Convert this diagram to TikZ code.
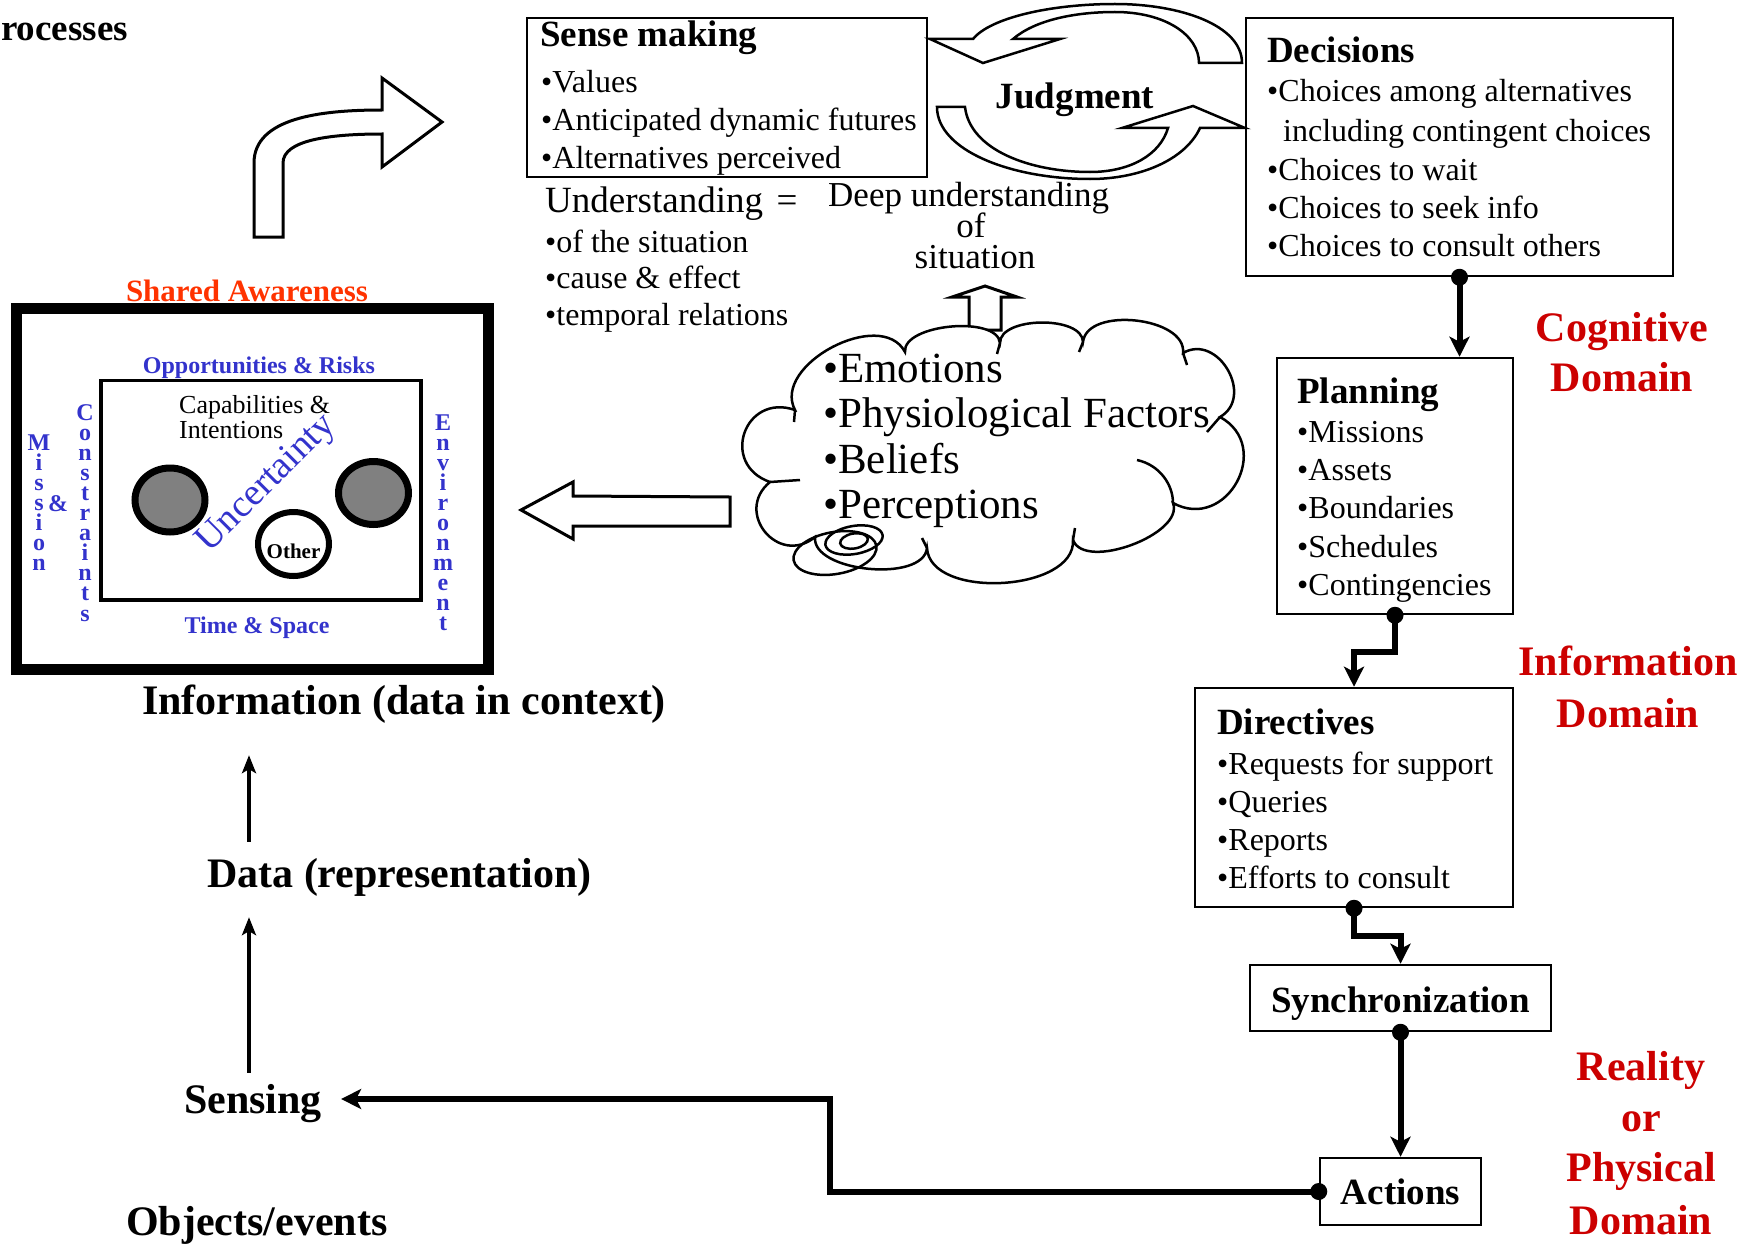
\documentclass[tikz,border=0pt]{standalone}
\usepackage{fontspec}
\setmainfont{Liberation Serif}
\usetikzlibrary{arrows.meta,shapes.geometric,calc}
\definecolor{domred}{RGB}{204,0,0}
\definecolor{sared}{RGB}{255,51,0}
\definecolor{sablue}{RGB}{51,51,204}
\begin{document}
\begin{tikzpicture}[x=1pt,y=-1pt,
  every node/.style={inner sep=0pt},
  reg/.style={font=\fontsize{#1pt}{#1pt}\selectfont},
  bld/.style={font=\fontsize{#1pt}{#1pt}\selectfont\bfseries},
  bul/.style={reg=32, anchor=base west},
  hdr/.style={bld=37, anchor=base west},
  lab/.style={bld=42, anchor=base west},
  dom/.style={bld=42, anchor=base, text=domred},
  vlet/.style={bld=24, anchor=base, text=sablue, text height=13pt, text depth=0pt},
  rbox/.style={draw, line width=2.5pt, rectangle},
  conn/.style={line width=6pt, -{Stealth[length=20pt,width=20pt,inset=5pt]}},
  thinarr/.style={line width=4pt, -{Stealth[length=18pt,width=14pt,inset=4pt]}},
  blockarr/.style={draw, line width=3pt, fill=white, line join=miter},
  cloudline/.style={line width=2.5pt}
]
\useasboundingbox (0,0) rectangle (1758,1244);

% ---------- top-left ----------
\node[bld=37, anchor=base west] (proc) at (1,41) {rocesses};
\draw[blockarr] (254,237) -- (254,163) .. controls (254,118) and (320,110) .. (382,110)
  -- (382,78) -- (442,122) -- (382,167) -- (382,134)
  .. controls (330,134) and (283,140) .. (283,163) -- (283,237) -- cycle;

% ---------- shared awareness ----------
\node[bld=31, anchor=base, text=sared] (salbl) at (247,301) {Shared Awareness};
\node[draw, line width=11pt, minimum width=472pt, minimum height=361pt] (sa) at (252.5,489) {};
\node[draw, line width=3.5pt, minimum width=320pt, minimum height=219.5pt] (ctx) at (261,490.25) {};
\node[bld=24, anchor=base, text=sablue] (opp) at (259,373) {Opportunities \& Risks};
\node[bld=24, anchor=base, text=sablue] (ts) at (257,633) {Time \& Space};
\node[reg=26, anchor=base west] (cap1) at (179,413) {Capabilities \&};
\node[reg=26, anchor=base west] (cap2) at (179,438) {Intentions};
\node[ellipse, draw, line width=7pt, fill=gray, minimum width=70pt, minimum height=64pt] (g1) at (170,500) {};
\node[ellipse, draw, line width=7pt, fill=gray, minimum width=70pt, minimum height=63pt] (g2) at (373.5,493) {};
\node[ellipse, draw, line width=6pt, fill=white, minimum width=71pt, minimum height=64pt] (oth) at (293.5,544) {};
\node[bld=21, anchor=base] (othtxt) at (293.5,558) {Other};
\node[reg=38, anchor=base, rotate=45, text=sablue] (unc) at (273,490) {Uncertainty};
\foreach \ch [count=\i from 0] in {M,i,s,s,i,o,n}
  \node[vlet] (mis\i) at (39,{450+20*\i}) {\ch};
\node[vlet] (amp) at (58,511) {\&};
\foreach \ch [count=\i from 0] in {C,o,n,s,t,r,a,i,n,t,s}
  \node[vlet] (con\i) at (85,{420+20.1*\i}) {\ch};
\foreach \ch [count=\i from 0] in {E,n,v,i,r,o,n,m,e,n,t}
  \node[vlet] (env\i) at (443,{430+20*\i}) {\ch};

% ---------- left column ----------
\node[lab] (info) at (142,714) {Information (data in context)};
\node[lab] (data) at (207,887) {Data (representation)};
\node[lab] (sensing) at (184,1113) {Sensing};
\node[lab] (objects) at (126,1235) {Objects/events};
\coordinate (colx) at (249,1000);
\draw[thinarr, shorten <=11pt, shorten >=21pt] (sensing.north -| colx) -- (data.south -| colx);
\draw[thinarr, shorten <=16pt, shorten >=32pt] (data.north -| colx) -- (info.south -| colx);

% ---------- sense making ----------
\node[rbox, minimum width=400pt, minimum height=159pt] (sense) at (727,97.5) {};
\node[hdr] (sm0) at (540,47) {Sense making};
\node[bul] (sm1) at (541,93) {\textbullet Values};
\node[bul] (sm2) at (541,131) {\textbullet Anticipated dynamic futures};
\node[bul] (sm3) at (541,168) {\textbullet Alternatives perceived};
\node[reg=37, anchor=base west] (und) at (545,212) {Understanding};
\node[reg=37, anchor=base] (eq) at (787,212) {=};
\node[reg=35, anchor=base west] (deep) at (828,206) {Deep understanding};
\node[reg=35, anchor=base] (of) at (971,237) {of};
\node[reg=35, anchor=base] (sit) at (975,268) {situation};
\node[bul] (u1) at (545,252) {\textbullet of the situation};
\node[bul] (u2) at (545,288) {\textbullet cause \& effect};
\node[bul] (u3) at (545,325) {\textbullet temporal relations};

% ---------- judgment ----------
\draw[blockarr, line width=2.5pt] (973,39) -- (930,39) -- (983,63) -- (1060,39) -- (1013,39)
  .. controls (1035,20) and (1075,12) .. (1115,12)
  .. controls (1165,12) and (1199,35) .. (1199,63) -- (1242,63)
  .. controls (1242,25) and (1180,4) .. (1115,4)
  .. controls (1050,4) and (990,18) .. (973,39) -- cycle;
\draw[blockarr, line width=2.5pt] (937,107) -- (965,107)
  .. controls (970,150) and (1030,172) .. (1090,172)
  .. controls (1130,172) and (1160,155) .. (1168,128)
  -- (1122,128) -- (1193,106) -- (1245,128) -- (1200,128)
  .. controls (1185,160) and (1140,179) .. (1090,179)
  .. controls (1010,179) and (937,150) .. (937,107) -- cycle;
\node[bld=37, anchor=base] (judg) at (1075,109) {Judgment};

% ---------- decisions ----------
\node[rbox, minimum width=427pt, minimum height=258pt] (dec) at (1459.5,147) {};
\node[hdr] (d0) at (1267,63) {Decisions};
\node[bul] (d1) at (1267,102) {\textbullet Choices among alternatives};
\node[bul] (d1b) at (1283,142) {including contingent choices};
\node[bul] (d2) at (1267,180) {\textbullet Choices to wait};
\node[bul] (d3) at (1267,218) {\textbullet Choices to seek info};
\node[bul] (d4) at (1267,256) {\textbullet Choices to consult others};

% ---------- planning ----------
\node[rbox, minimum width=236pt, minimum height=256pt] (plan) at (1395,486) {};
\node[hdr] (p0) at (1297,403) {Planning};
\node[bul] (p1) at (1297,442) {\textbullet Missions};
\node[bul] (p2) at (1297,480) {\textbullet Assets};
\node[bul] (p3) at (1297,518) {\textbullet Boundaries};
\node[bul] (p4) at (1297,557) {\textbullet Schedules};
\node[bul] (p5) at (1297,595) {\textbullet Contingencies};

% ---------- directives ----------
\node[rbox, minimum width=318pt, minimum height=219pt] (dir) at (1354,797.5) {};
\node[hdr] (r0) at (1217,734) {Directives};
\node[bul] (r1) at (1217,774) {\textbullet Requests for support};
\node[bul] (r2) at (1217,812) {\textbullet Queries};
\node[bul] (r3) at (1217,850) {\textbullet Reports};
\node[bul] (r4) at (1217,888) {\textbullet Efforts to consult};

% ---------- sync / actions ----------
\node[rbox, minimum width=301pt, minimum height=66pt] (sync) at (1400.5,998) {};
\node[bld=37, anchor=base] (synct) at (1400.5,1012) {Synchronization};
\node[rbox, minimum width=161pt, minimum height=67pt] (act) at (1400.5,1191.5) {};
\node[bld=37, anchor=base] (actt) at (1400.5,1204) {Actions};

% ---------- connectors ----------
\draw[conn] (dec.south) -- (dec.south |- plan.north);
\fill (dec.south) circle[radius=8.5];
\coordinate (pd) at (1375,652);
\draw[conn] (plan.south) |- (pd) -| (dir.north);
\fill (plan.south) circle[radius=8.5];
\coordinate (ds) at (1380,936);
\draw[conn] (dir.south) |- (ds) -| (sync.north);
\fill (dir.south) circle[radius=8.5];
\draw[conn] (sync.south) -- (act.north);
\fill (sync.south) circle[radius=8.5];
\coordinate (turn) at (830,1099);
\path (sensing.east) ++(19,0) coordinate (senstip);
\draw[conn] (act.west) -| (turn) -- (turn -| senstip);
\fill (act.west) circle[radius=8.5];

% ---------- domain labels ----------
\node[dom] (cg1) at (1622,341) {Cognitive};
\node[dom] (cg2) at (1622,391) {Domain};
\node[dom] (in1) at (1628,675) {Information};
\node[dom] (in2) at (1628,727) {Domain};
\node[dom] (re1) at (1641,1080) {Reality};
\node[dom] (re2) at (1641,1131) {or};
\node[dom] (re3) at (1641,1181) {Physical};
\node[dom] (re4) at (1641,1234) {Domain};

% ---------- arrows around cloud ----------
\draw[blockarr] (969,330) -- (969,297) -- (952,297) -- (985,286) -- (1017,297) -- (1001,297) -- (1001,330) -- cycle;
\draw[blockarr] (521,510) -- (573,482) -- (573,496) -- (730,497) -- (730,526) -- (573,526) -- (573,539) -- cycle;

% ---------- cloud ----------
\coordinate (J0) at (795,410);
\coordinate (J1) at (905,352);
\coordinate (J2) at (1000,343);
\coordinate (J3) at (1083,342);
\coordinate (J4) at (1183,353);
\coordinate (J5) at (1220,417);
\coordinate (J6) at (1173,503);
\coordinate (J7) at (1073,540);
\coordinate (J8) at (927,548);
\coordinate (J9) at (815,537);
\coordinate (J10) at (770,482);
\draw[cloudline, fill=white] (J0)
  to[bend left=90, looseness=1.05] (J1)
  to[bend left=90, looseness=0.75] (J2)
  to[bend left=90, looseness=0.82] (J3)
  to[bend left=90, looseness=0.92] (J4)
  to[bend left=90, looseness=1.4] (J5)
  to[bend left=90, looseness=1.6] (J6)
  to[bend left=90, looseness=0.8] (J7)
  to[bend left=90, looseness=0.91] (J8)
  to[bend left=90, looseness=0.8] (J9)
  to[bend left=90, looseness=1.7] (J10)
  to[bend left=90, looseness=1.8] (J0) -- cycle;
\draw[cloudline] (1137,460) .. controls (1160,465) and (1173,485) .. (1173,503);
\draw[cloudline] (J0) -- (794,422);
\draw[cloudline] (J2) -- (997,354);
\draw[cloudline] (J3) -- (1079,352);
\draw[cloudline] (J4) -- (1187,365);
\draw[cloudline] (J5) -- (1207,432);
\draw[cloudline] (J7) -- (1075,528);
\draw[cloudline] (J8) -- (922,538);
\draw[cloudline] (J10) -- (800,480);
\draw[cloudline, rotate around={10:(835,553)}] (835,553) ellipse[x radius=42, y radius=21];
\draw[cloudline, rotate around={10:(854,540)}] (854,540) ellipse[x radius=29, y radius=14];
\draw[cloudline, rotate around={10:(854,541)}] (854,541) ellipse[x radius=14, y radius=7.5];
\node[reg=43, anchor=base west] (c1) at (823,382) {\textbullet Emotions};
\node[reg=43, anchor=base west] (c2) at (823,427) {\textbullet Physiological Factors};
\node[reg=43, anchor=base west] (c3) at (823,473) {\textbullet Beliefs};
\node[reg=43, anchor=base west] (c4) at (823,518) {\textbullet Perceptions};
\end{tikzpicture}
\end{document}
